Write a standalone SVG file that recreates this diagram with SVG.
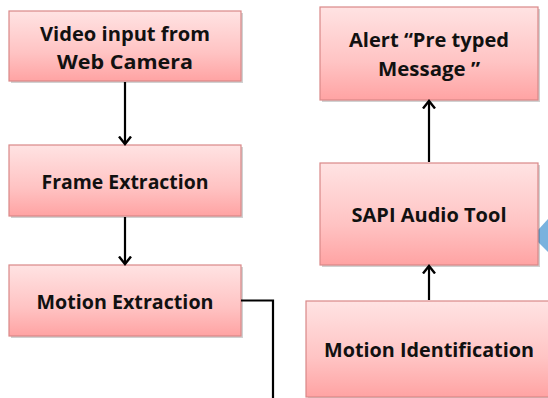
<svg xmlns="http://www.w3.org/2000/svg" width="548" height="398" viewBox="0 0 548 398">
<defs>
<linearGradient id="pink" x1="0" y1="0" x2="0" y2="1">
<stop offset="0" stop-color="#ffe3e3"/>
<stop offset="0.6" stop-color="#ffc3c3"/>
<stop offset="1" stop-color="#ffa3a3"/>
</linearGradient>
<marker id="arr" markerWidth="16" markerHeight="16" viewBox="-8 -8 16 16" refX="0" refY="0" orient="auto" markerUnits="userSpaceOnUse">
<path d="M-7.5,-6 L0,0 L-7.5,6" fill="none" stroke="#000" stroke-width="2.4"/>
</marker>
</defs>
<style>
.box{fill:url(#pink);stroke:#d98888;stroke-width:1.2}
.sh{fill:#000;opacity:0.18}
.t{font-family:"Open Sans",Lato,"Liberation Sans",sans-serif;font-weight:bold;font-size:19px;fill:#111;text-anchor:middle;font-variant-ligatures:none}
.c{fill:none;stroke:#000;stroke-width:2.2}
</style>
<polygon points="549,218 538,230 538,242 549,253" fill="#7ab2de"/>
<g id="n-video">
<rect class="sh" x="11" y="13" width="232" height="70"/>
<rect class="box" x="9" y="11" width="232" height="70"/>
<text class="t" x="125" y="41" textLength="170" lengthAdjust="spacingAndGlyphs">Video input from</text>
<text class="t" x="125" y="69" textLength="136" lengthAdjust="spacingAndGlyphs">Web Camera</text>
</g>
<g id="n-frame">
<rect class="sh" x="11" y="147" width="232" height="71"/>
<rect class="box" x="9" y="145" width="232" height="71"/>
<text class="t" x="125" y="189" textLength="167" lengthAdjust="spacingAndGlyphs">Frame Extraction</text>
</g>
<g id="n-motionext">
<rect class="sh" x="11" y="267" width="232" height="71"/>
<rect class="box" x="9" y="265" width="232" height="71"/>
<text class="t" x="125" y="309" textLength="177" lengthAdjust="spacingAndGlyphs">Motion Extraction</text>
</g>
<g id="n-alert">
<rect class="sh" x="322" y="9" width="218" height="93"/>
<rect class="box" x="320" y="7" width="218" height="93"/>
<text class="t" x="429" y="47" textLength="160" lengthAdjust="spacingAndGlyphs">Alert “Pre typed</text>
<text class="t" x="429" y="76" textLength="102" lengthAdjust="spacingAndGlyphs">Message ”</text>
</g>
<g id="n-sapi">
<rect class="sh" x="322" y="165" width="218" height="102"/>
<rect class="box" x="320" y="163" width="218" height="102"/>
<text class="t" x="429" y="222" textLength="155" lengthAdjust="spacingAndGlyphs">SAPI Audio Tool</text>
</g>
<g id="n-motionid">
<rect class="sh" x="308" y="303" width="250" height="96"/>
<rect class="box" x="306" y="301" width="250" height="96"/>
<text class="t" x="429" y="357" textLength="210" lengthAdjust="spacingAndGlyphs">Motion Identification</text>
</g>
<g id="connectors">
<line class="c" x1="125" y1="82" x2="125" y2="144" marker-end="url(#arr)"/>
<line class="c" x1="125" y1="217" x2="125" y2="264" marker-end="url(#arr)"/>
<polyline class="c" points="241,300.5 273,300.5 273,399"/>
<line class="c" x1="429" y1="300" x2="429" y2="266" marker-end="url(#arr)"/>
<line class="c" x1="429" y1="162" x2="429" y2="101" marker-end="url(#arr)"/>
</g>
</svg>
